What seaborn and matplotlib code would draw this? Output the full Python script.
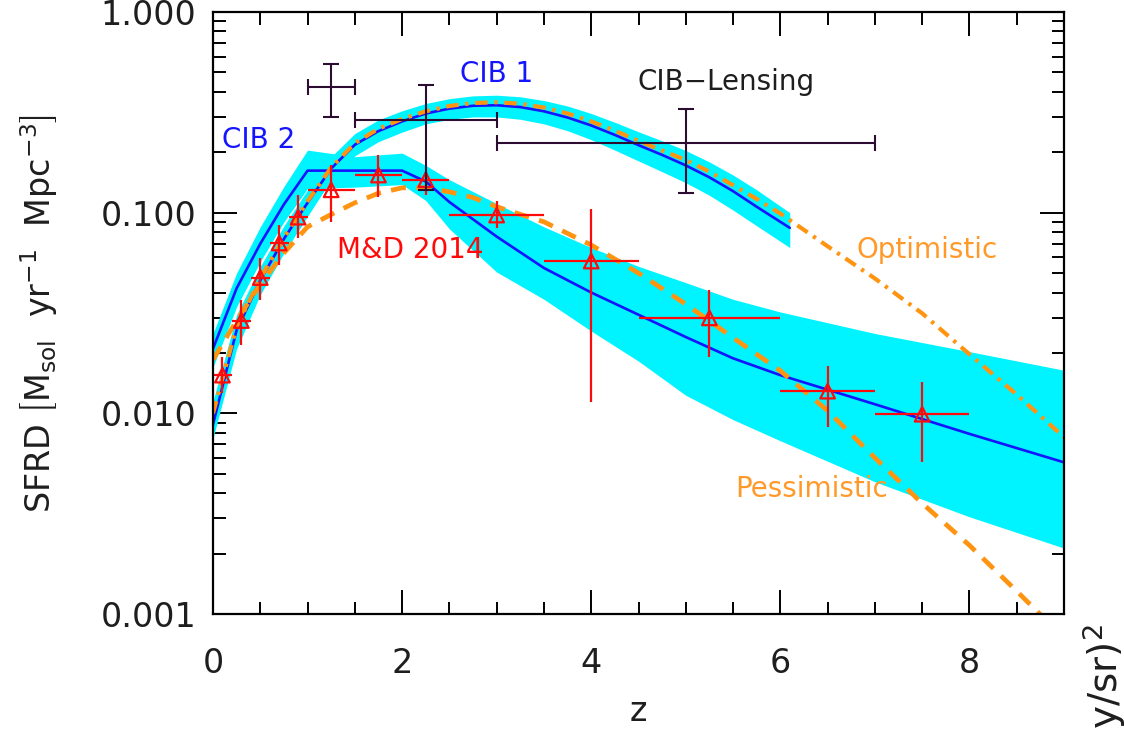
import matplotlib
matplotlib.use("Agg")
import matplotlib.pyplot as plt
import matplotlib.ticker as mticker
import seaborn as sns

# ---- M&D 2014 compilation (red triangles) ----
md_z = [0.1, 0.3, 0.5, 0.7, 0.9, 1.25, 1.75, 2.25, 3.0, 4.0, 5.25, 6.5, 7.5]
md_zlo = [0.0, 0.2, 0.4, 0.6, 0.8, 1.0, 1.5, 2.0, 2.5, 3.5, 4.5, 6.0, 7.0]
md_zhi = [0.2, 0.4, 0.6, 0.8, 1.0, 1.5, 2.0, 2.5, 3.5, 4.5, 6.0, 7.0, 8.0]
md_sfrd = [0.0155, 0.029, 0.0475, 0.0706, 0.095, 0.130, 0.154, 0.146, 0.0973, 0.0574, 0.0299, 0.0129, 0.0099]
md_lo = [0.0126, 0.0219, 0.0367, 0.0548, 0.0746, 0.0897, 0.120, 0.1225, 0.0838, 0.0114, 0.0191, 0.00855, 0.0057]
md_hi = [0.0191, 0.0367, 0.0594, 0.0867, 0.1225, 0.173, 0.194, 0.159, 0.114, 0.104, 0.041, 0.0172, 0.0143]

# ---- CIB-lensing constraints ----
lens_z = [1.25, 2.25, 5.0]
lens_zlo = [1.0, 1.5, 3.0]
lens_zhi = [1.5, 3.0, 7.0]
lens_sfrd = [0.423, 0.289, 0.222]
lens_lo = [0.299, 0.130, 0.125]
lens_hi = [0.549, 0.432, 0.328]

# ---- CIB 1 model with its uncertainty band ----
cib1_z = [0.0, 0.25, 0.5, 0.75, 1.0, 1.25, 1.5, 1.75, 2.0, 2.25, 2.5, 2.75, 3.0, 3.25, 3.5,
          3.75, 4.0, 4.25, 4.5, 4.75, 5.0, 5.25, 5.5, 5.75, 6.1]
cib1_sfrd = [0.0088, 0.026, 0.046, 0.074, 0.112, 0.166, 0.218, 0.255, 0.285, 0.312, 0.330, 0.341, 0.343,
             0.336, 0.320, 0.298, 0.272, 0.244, 0.217, 0.194, 0.172, 0.150, 0.128, 0.107, 0.084]
cib1_lo = [0.0075, 0.021, 0.039, 0.063, 0.096, 0.146, 0.192, 0.226, 0.252, 0.277, 0.292, 0.300, 0.300,
           0.292, 0.277, 0.256, 0.231, 0.205, 0.181, 0.160, 0.141, 0.122, 0.103, 0.086, 0.067]
cib1_hi = [0.0115, 0.031, 0.054, 0.086, 0.130, 0.190, 0.248, 0.290, 0.322, 0.350, 0.370, 0.382, 0.385,
           0.378, 0.362, 0.340, 0.312, 0.282, 0.253, 0.228, 0.204, 0.179, 0.154, 0.130, 0.100]

# ---- CIB 2 model with its uncertainty band ----
cib2_z = [0.0, 0.25, 0.5, 0.75, 1.0, 1.5, 2.0, 2.25, 2.5, 3.0, 3.5, 4.0, 4.5, 5.0, 5.5, 6.0, 7.0, 8.0, 9.0]
cib2_sfrd = [0.021, 0.042, 0.070, 0.110, 0.162, 0.162, 0.162, 0.143, 0.113, 0.076, 0.053, 0.040, 0.031,
             0.024, 0.0188, 0.0155, 0.0111, 0.0079, 0.0057]
cib2_lo = [0.017, 0.034, 0.057, 0.090, 0.132, 0.134, 0.138, 0.115, 0.083, 0.0506, 0.037, 0.0257, 0.0182,
           0.0123, 0.0093, 0.0073, 0.00456, 0.00305, 0.00213]
cib2_hi = [0.025, 0.050, 0.085, 0.135, 0.205, 0.190, 0.198, 0.172, 0.146, 0.111, 0.085, 0.067, 0.054,
           0.0448, 0.037, 0.032, 0.025, 0.0203, 0.0164]

# ---- Optimistic / pessimistic scenarios ----
opt_z = [0.0, 0.25, 0.5, 0.75, 1.0, 1.25, 1.5, 1.75, 2.0, 2.25, 2.5, 2.75, 3.0, 3.25, 3.5, 3.75,
         4.0, 4.25, 4.5, 4.75, 5.0, 5.25, 5.5, 5.75, 6.0, 6.5, 7.0, 7.5, 8.0, 8.5, 9.0]
opt_sfrd = [0.0100, 0.027, 0.047, 0.075, 0.114, 0.168, 0.222, 0.262, 0.293, 0.320, 0.340, 0.352, 0.355,
            0.349, 0.334, 0.312, 0.285, 0.256, 0.228, 0.204, 0.183, 0.160, 0.137, 0.117, 0.099,
            0.068, 0.047, 0.0315, 0.0197, 0.0124, 0.0076]
pes_z = [0.0, 0.25, 0.5, 0.75, 1.0, 1.25, 1.5, 1.75, 2.0, 2.25, 2.5, 2.75, 3.0, 3.5, 4.0, 4.5, 5.0,
         5.5, 6.0, 6.5, 7.0, 7.5, 8.0, 8.5, 9.0]
pes_sfrd = [0.0185, 0.029, 0.044, 0.063, 0.085, 0.098, 0.112, 0.125, 0.133, 0.133, 0.127, 0.119, 0.107,
            0.090, 0.069, 0.050, 0.035, 0.0238, 0.0163, 0.0103, 0.0060, 0.00356, 0.0022, 0.0013, 0.00076]

y_ticks = [0.001, 0.01, 0.1, 1.0]
x_ticks = [0, 2, 4, 6, 8]

CYAN = "#00f4ff"
BLUE = "#1414ff"
ORANGE = "#ff9411"
RED = "#ff0a0a"
PLUM = "#2c0c30"
INK = "#1e1e1e"

sns.set_theme(style="ticks")
plt.rcParams["font.family"] = ["DejaVu Sans"]
plt.rcParams["mathtext.fontset"] = "dejavusans"

fig = plt.figure(figsize=(11.24, 7.29), dpi=100)
ax = fig.add_axes([213 / 1124, 1 - 614 / 729, (1064 - 213) / 1124, (614 - 12) / 729])
ax.set_yscale("log")

# uncertainty bands
ax.fill_between(cib2_z, cib2_lo, cib2_hi, color=CYAN, lw=0, zorder=1)
ax.fill_between(cib1_z, cib1_lo, cib1_hi, color=CYAN, lw=0, zorder=1)

# model curves
sns.lineplot(x=cib2_z, y=cib2_sfrd, ax=ax, color=BLUE, lw=1.9, sort=False, estimator=None, zorder=3)
sns.lineplot(x=cib1_z, y=cib1_sfrd, ax=ax, color=BLUE, lw=1.9, sort=False, estimator=None, zorder=3)
sns.lineplot(x=pes_z, y=pes_sfrd, ax=ax, color=ORANGE, lw=3.4, sort=False, estimator=None,
             linestyle=(0, (3.2, 2.2)), zorder=4)
sns.lineplot(x=opt_z, y=opt_sfrd, ax=ax, color=ORANGE, lw=3.0, sort=False, estimator=None,
             linestyle=(0, (3.0, 1.6, 0.8, 1.6)), zorder=4)

# M&D 2014 points
md_xerr = [[c - lo for c, lo in zip(md_z, md_zlo)], [hi - c for c, hi in zip(md_z, md_zhi)]]
md_yerr = [[c - lo for c, lo in zip(md_sfrd, md_lo)], [hi - c for c, hi in zip(md_sfrd, md_hi)]]
ax.errorbar(md_z, md_sfrd, xerr=md_xerr, yerr=md_yerr, fmt="none", ecolor=RED, elinewidth=1.6,
            capsize=0, zorder=5)
sns.scatterplot(x=md_z, y=md_sfrd, ax=ax, marker="^", s=110, facecolor="none", edgecolor=RED,
                linewidth=1.6, zorder=6)

# CIB-lensing points
lens_xerr = [[c - lo for c, lo in zip(lens_z, lens_zlo)], [hi - c for c, hi in zip(lens_z, lens_zhi)]]
lens_yerr = [[c - lo for c, lo in zip(lens_sfrd, lens_lo)], [hi - c for c, hi in zip(lens_sfrd, lens_hi)]]
ax.errorbar(lens_z, lens_sfrd, xerr=lens_xerr, yerr=lens_yerr, fmt="none", ecolor=PLUM,
            elinewidth=1.5, capsize=5.5, capthick=1.5, zorder=6)

# annotations
lab = dict(fontsize=20, ha="left", va="baseline", zorder=7)
ax.text(0.095, 0.21, "CIB 2", color=BLUE, **lab)
ax.text(2.61, 0.448, "CIB 1", color=BLUE, **lab)
ax.text(4.49, 0.408, "CIB\u2212Lensing", color=INK, **lab)
ax.text(1.31, 0.0594, "M&D 2014", color=RED, **lab)
ax.text(6.81, 0.0594, "Optimistic", color="#ff9a2a", **lab)
ax.text(5.52, 0.00383, "Pessimistic", color="#ff9a2a", **lab)

# axes styling
ax.set_xlim(0, 9)
ax.set_ylim(0.001, 1.0)
ax.set_xticks(x_ticks)
ax.xaxis.set_minor_locator(mticker.MultipleLocator(0.5))
ax.set_yticks(y_ticks)
ax.yaxis.set_major_formatter(mticker.FuncFormatter(lambda v, p: f"{v:.3f}"))
ax.yaxis.set_minor_locator(mticker.LogLocator(base=10, subs=range(2, 10)))
ax.yaxis.set_minor_formatter(mticker.NullFormatter())
ax.tick_params(which="both", direction="in", top=True, right=True, color="black", width=1.4)
ax.tick_params(which="major", length=17)
ax.tick_params(which="minor", length=9)
ax.tick_params(axis="x", which="major", labelsize=24, pad=24, labelcolor=INK)
ax.tick_params(axis="y", which="major", labelsize=24, pad=12, labelcolor=INK)
for s in ax.spines.values():
    s.set_color("black")
    s.set_linewidth(1.6)
    s.set_zorder(8)

ax.set_xlabel("z", fontsize=24, color=INK)
ax.xaxis.set_label_coords(0.5, -0.135)
ax.set_ylabel(r"SFRD $\left[\mathrm{M_{sol}\ \ yr^{-1}\ \ Mpc^{-3}}\right]$", fontsize=24, color=INK)
ax.yaxis.set_label_coords(-0.18, 0.5)

# label of the neighbouring panel, cut by the figure edge
fig.text(0.982, 1 - 624 / 729, r"$C_\ell$ (Jy/sr)$^2$", rotation=90, ha="center", va="top",
         fontsize=28, color=INK)

fig.savefig("out.png", dpi=100, facecolor="white")
